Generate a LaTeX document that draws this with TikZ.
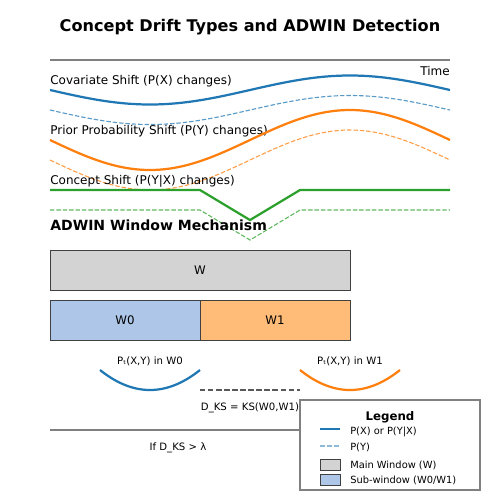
\documentclass[tikz,border=0pt]{standalone}
\usepackage{fontspec}
\setmainfont{DejaVu Sans}
\usetikzlibrary{positioning}

\definecolor{driftblue}{HTML}{1F77B4}
\definecolor{driftorange}{HTML}{FF7F0E}
\definecolor{driftgreen}{HTML}{2CA02C}
\definecolor{paleblue}{HTML}{AEC7E8}
\definecolor{paleorange}{HTML}{FFBB78}
\definecolor{palegray}{HTML}{D3D3D3}

\begin{document}
\begin{tikzpicture}[
        x=0.72pt, y=-0.72pt,
        lbl/.style={anchor=base west, inner sep=0pt, font=\fontsize{8.65}{10}\selectfont},
        small/.style={anchor=base, inner sep=0pt, font=\fontsize{7.3}{8.5}\selectfont},
        heading/.style={anchor=base west, inner sep=0pt, font=\fontsize{10.1}{12}\selectfont\bfseries},
        solidcurve/.style={line width=1.6pt},
        dashcurve/.style={line width=0.8pt, opacity=0.75, dash pattern=on 3.2pt off 1.4pt},
        rule/.style={draw=gray, line width=1.4pt},
        winbox/.style={
            rectangle,
            draw=black!75,
            line width=0.7pt,
            inner sep=0pt,
            outer sep=0pt,
            minimum height=28.8pt,
            font=\fontsize{8.5}{10}\selectfont
        },
        swatch/.style={rectangle, draw=black!75, line width=0.7pt, minimum width=14.4pt, minimum height=7.9pt, inner sep=0pt}
    ]
    \useasboundingbox (0,0) rectangle (500,500);

    % Title
    \node[anchor=base, inner sep=0pt, font=\fontsize{11.6}{14}\selectfont\bfseries] (title) at (250,31) {Concept Drift Types and ADWIN Detection};

    % Time axis
    \coordinate (t0) at (50,60);
    \coordinate (t1) at (450,60);
    \draw[rule] (t0) -- (t1);
    \node[anchor=base east, inner sep=0pt, font=\fontsize{8.65}{10}\selectfont] (time) at (450,75) {Time};

    % Drift curves
    \node[lbl] (cov) at (50,84.5) {Covariate Shift (P(X) changes)};
    \draw[solidcurve, driftblue] plot[domain=50:450, samples=101, smooth] (\x,{90+14.5*sin(0.9*(\x-50))});
    \draw[dashcurve, driftblue] plot[domain=50:450, samples=101, smooth] (\x,{110+14.5*sin(0.9*(\x-50))});

    \node[lbl] (prior) at (50,134.3) {Prior Probability Shift (P(Y) changes)};
    \draw[solidcurve, driftorange] plot[domain=50:450, samples=101, smooth] (\x,{140+30*sin(0.9*(\x-50))});
    \draw[dashcurve, driftorange] plot[domain=50:450, samples=101, smooth] (\x,{160+30*sin(0.9*(\x-50))});

    \node[lbl] (concept) at (50,184.3) {Concept Shift (P(Y|X) changes)};
    \draw[solidcurve, driftgreen] (50,190) -- (200,190) -- (250,220) -- (300,190) -- (450,190);
    \draw[dashcurve, driftgreen] (50,210) -- (200,210) -- (250,240) -- (300,210) -- (450,210);

    % ADWIN windows
    \node[heading] (adwin) at (50,230) {ADWIN Window Mechanism};
    \node[winbox, fill=palegray, minimum width=216pt] (W) at (200,270) {W};
    \node[winbox, fill=paleblue, minimum width=108pt] (W0) at (125,320) {W0};
    \node[winbox, fill=paleorange, minimum width=108pt, right=0pt of W0] (W1) {W1};

    % Distributions
    \node[small] (p0) at (150,364) {Pₜ(X,Y) in W0};
    \node[small] (p1) at (350,364) {Pₜ(X,Y) in W1};
    \draw[solidcurve, driftblue] plot[domain=100:200, samples=41, smooth] (\x,{390-20*((\x-150)/50)^2});
    \draw[solidcurve, driftorange] plot[domain=300:400, samples=41, smooth] (\x,{390-20*((\x-350)/50)^2});
    \coordinate (k0) at (200,390);
    \coordinate (k1) at (300,390);
    \draw[black!65, line width=1.1pt, dash pattern=on 3.9pt off 1.9pt] (k0) -- (k1);
    \node[small] (dks) at (250,410) {D\_KS = KS(W0,W1)};

    \coordinate (r0) at (50,430);
    \coordinate (r1) at (450,430);
    \draw[rule] (r0) -- (r1);
    \node[small] (test) at (178,450) {If D\_KS > λ};

    % Legend
    \node[rectangle, draw=gray, line width=1.1pt, fill=white, minimum width=129.6pt, minimum height=64.8pt, inner sep=0pt] (legend) at (390,445) {};
    \node[anchor=base, inner sep=0pt, font=\fontsize{8.5}{10}\selectfont\bfseries] (legtitle) at (390,420) {Legend};
    \coordinate (l1a) at (320,429.3);
    \coordinate (l1b) at (340,429.3);
    \draw[solidcurve, driftblue] (l1a) -- (l1b);
    \node[lbl, font=\fontsize{7.1}{8.5}\selectfont] (leg1) at (350,434.3) {P(X) or P(Y|X)};
    \coordinate (l2a) at (320,446);
    \coordinate (l2b) at (340,446);
    \draw[line width=1.6pt, driftblue, opacity=0.5, dash pattern=on 3.5pt off 1.5pt] (l2a) -- (l2b);
    \node[lbl, font=\fontsize{7.1}{8.5}\selectfont] (leg2) at (350,450) {P(Y)};
    \node[swatch, fill=palegray] (sw1) at (330,464.7) {};
    \node[lbl, font=\fontsize{7.1}{8.5}\selectfont] (leg3) at (350,468.3) {Main Window (W)};
    \node[swatch, fill=paleblue] (sw2) at (330,479.7) {};
    \node[lbl, font=\fontsize{7.1}{8.5}\selectfont] (leg4) at (350,483.3) {Sub-window (W0/W1)};

\end{tikzpicture}
\end{document}
